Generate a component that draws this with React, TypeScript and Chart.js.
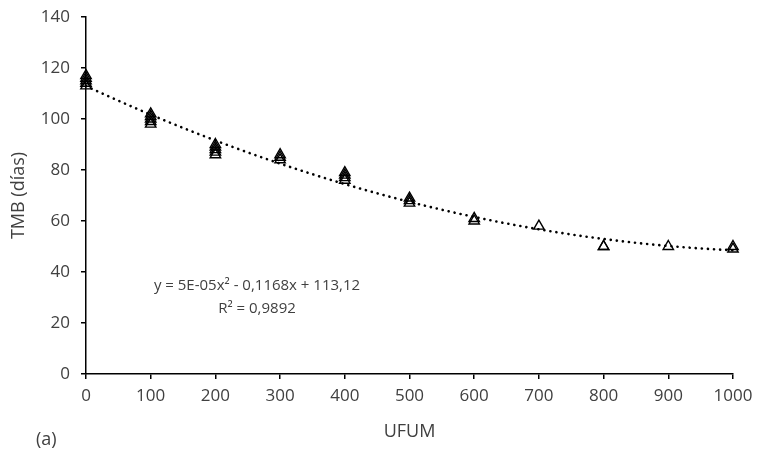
import React, { useEffect, useRef } from "react";
import { Chart, registerables } from "chart.js";

Chart.register(...registerables);

const UFUM = [0, 0, 0, 0, 0, 100, 100, 100, 100, 100, 200, 200, 200, 200, 200, 300, 300, 300, 400, 400, 400, 400, 500, 500, 500, 600, 600, 700, 800, 800, 900, 1000, 1000];
const TMB = [113, 114, 115, 116, 117, 98, 99, 100, 101, 102, 86, 87, 88, 89, 90, 84, 85, 86, 76, 77, 78, 79, 67, 68, 69, 60, 61, 58, 50, 50, 50, 49, 50];
const EQUATION = "y = 5E-05x² - 0,1168x + 113,12";
const R2 = "R² = 0,9892";
const X_TITLE = "UFUM";
const Y_TITLE = "TMB (días)";
const PANEL = "(a)";

function quadFit(xs: number[], ys: number[]) {
  let s0 = xs.length, s1 = 0, s2 = 0, s3 = 0, s4 = 0, t0 = 0, t1 = 0, t2 = 0;
  for (let i = 0; i < xs.length; i++) {
    const x = xs[i], y = ys[i];
    s1 += x; s2 += x * x; s3 += x * x * x; s4 += x * x * x * x;
    t0 += y; t1 += x * y; t2 += x * x * y;
  }
  const M = [[s4, s3, s2, t2], [s3, s2, s1, t1], [s2, s1, s0, t0]];
  for (let c = 0; c < 3; c++) {
    for (let r = c + 1; r < 3; r++) {
      const f = M[r][c] / M[c][c];
      for (let k = c; k < 4; k++) M[r][k] -= f * M[c][k];
    }
  }
  const sol = [0, 0, 0];
  for (let r = 2; r >= 0; r--) {
    let v = M[r][3];
    for (let k = r + 1; k < 3; k++) v -= M[r][k] * sol[k];
    sol[r] = v / M[r][r];
  }
  return sol;
}

const FONT = "'Open Sans', sans-serif";
const TXT = "#404040";

export default function App() {
  const ref = useRef<HTMLCanvasElement>(null);
  useEffect(() => {
    const [a, b, c] = quadFit(UFUM, TMB);
    const trend: { x: number; y: number }[] = [];
    for (let x = 0; x <= 1000; x += 10) trend.push({ x, y: a * x * x + b * x + c });
    const pts = UFUM.map((x, i) => ({ x, y: TMB[i] }));

    const textPlugin = {
      id: "texts",
      afterDraw(chart: any) {
        const ctx = chart.ctx;
        ctx.save();
        ctx.fillStyle = TXT;
        ctx.font = `15px ${FONT}`;
        ctx.textAlign = "center";
        ctx.textBaseline = "middle";
        ctx.fillText(EQUATION, 257, 286);
        ctx.fillText(R2, 257, 309);
        ctx.textAlign = "left";
        ctx.font = `18px ${FONT}`;
        ctx.fillText(PANEL, 36, 440);
        ctx.restore();
      },
    };

    const chart = new Chart(ref.current!, {
      type: "scatter",
      data: {
        datasets: [
          {
            type: "line",
            data: trend,
            borderColor: "#000",
            borderWidth: 2.6,
            borderDash: [0.1, 6],
            borderCapStyle: "round",
            pointRadius: 0,
            fill: false,
            order: 2,
            clip: false,
          } as any,
          {
            data: pts,
            pointStyle: "triangle",
            pointRadius: 6,
            borderColor: "#000",
            borderWidth: 1.4,
            backgroundColor: "rgba(0,0,0,0)",
            order: 1,
            clip: false,
          },
        ],
      },
      plugins: [textPlugin],
      options: {
        animation: false,
        responsive: false,
        layout: { padding: { left: 0, top: 17, right: 24, bottom: 7 } },
        plugins: { legend: { display: false }, tooltip: { enabled: false } },
        scales: {
          x: {
            type: "linear",
            min: 0,
            max: 1000,
            ticks: { stepSize: 100, color: TXT, font: { family: FONT, size: 17 }, padding: 7, maxRotation: 0, callback: (v: any) => String(v) },
            grid: { drawOnChartArea: false, drawTicks: true, tickLength: 5, color: "#000", lineWidth: 1.5 },
            border: { display: true, color: "#000", width: 1.5 },
            title: { display: true, text: X_TITLE, color: TXT, font: { family: FONT, size: 18 }, padding: { top: 0, bottom: 0 } },
            afterFit: (s: any) => { s.height = 69; s.paddingLeft = 0; s.paddingRight = 0; },
          },
          y: {
            min: 0,
            max: 140,
            ticks: { stepSize: 20, color: TXT, font: { family: FONT, size: 17 }, padding: 11 },
            grid: { drawOnChartArea: false, drawTicks: true, tickLength: 5, color: "#000", lineWidth: 1.5 },
            border: { display: true, color: "#000", width: 1.5 },
            title: { display: true, text: Y_TITLE, color: TXT, font: { family: FONT, size: 18 }, padding: { top: 8, bottom: 0 } },
            afterFit: (s: any) => { s.width = 86; s.paddingTop = 0; s.paddingBottom = 0; },
          },
        },
      },
    } as any);
    return () => chart.destroy();
  }, []);
  return (
    <div style={{ position: "absolute", left: 0, top: 0, width: 757, height: 450, background: "#fff" }}>
      <canvas ref={ref} width={757} height={450} style={{ width: 757, height: 450 }} />
    </div>
  );
}
